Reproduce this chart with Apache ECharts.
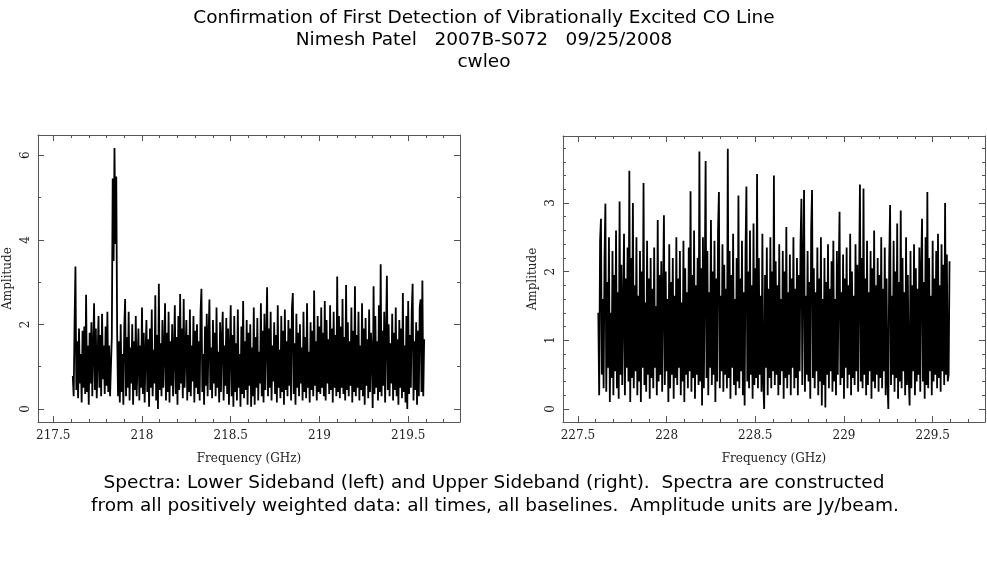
<!DOCTYPE html>
<html>
<head>
<meta charset="utf-8">
<script src="https://cdn.jsdelivr.net/npm/echarts@6/dist/echarts.min.js"></script>
<style>
html, body { margin: 0; padding: 0; background: #fff; }
#chart { width: 987px; height: 567px; }
</style>
</head>
<body>
<div id="chart"></div>
<script>
// channel grid of the two sidebands (GHz)
var lsbStart = 217.61;
var usbStart = 227.615;
var chanStep = 0.005;

// lower sideband amplitudes (Jy/beam)
var lsbAmp = [
	0.78, 0.3, 2.0, 3.37, 0.45, 1.6, 0.25, 1.9, 0.6, 1.3, 0.15, 1.85, 0.5, 1.95, 0.35, 2.7, 0.4, 1.5, 0.1, 1.8,
	0.6, 2.05, 0.3, 1.4, 2.5, 0.45, 1.9, 0.25, 1.2, 2.2, 0.5, 1.75, 0.3, 2.25, 0.7, 1.5, 0.35, 1.95, 0.55, 2.3,
	0.4, 1.5, 0.3, 0.3, 1.7, 5.45, 3.5, 6.17, 3.9, 5.5, 1.8, 0.3, 1.6, 0.15, 2.0, 0.4, 1.3, 0.1, 1.9, 2.6,
	0.3, 1.7, 0.5, 2.3, 0.2, 1.45, 0.6, 2.0, 0.1, 1.6, 0.45, 2.2, 0.3, 1.1, 1.9, 0.2, 1.5, 0.5, 2.4, 0.35,
	1.8, 0.15, 1.3, 2.1, 0.4, 1.65, 0.05, 1.9, 0.5, 2.35, 0.3, 1.4, 0.6, 2.69, 0.2, 1.75, 0.0, 2.96, 0.45, 1.55,
	0.3, 2.1, 0.5, 1.35, 2.5, 0.2, 1.8, 0.4, 2.3, 0.15, 1.6, 0.55, 2.0, 0.3, 1.25, 2.45, 0.35, 1.7, 0.1, 2.2,
	0.45, 2.72, 0.6, 1.9, 0.25, 2.6, 0.5, 1.4, 2.1, 0.2, 1.75, 0.4, 2.35, 0.3, 1.5, 0.65, 2.2, 0.15, 1.85, 0.5,
	2.0, 0.35, 1.6, 0.2, 2.3, 2.84, 0.4, 1.3, 0.1, 1.95, 0.55, 2.25, 0.3, 1.7, 2.59, 0.45, 1.45, 0.25, 2.1, 0.6,
	1.8, 0.3, 2.4, 0.5, 1.35, 0.15, 2.05, 0.4, 1.65, 2.3, 0.2, 1.5, 0.55, 2.15, 0.35, 1.9, 0.1, 1.4, 2.45, 0.3,
	1.75, 0.05, 2.2, 0.4, 1.55, 0.2, 2.35, 0.5, 1.3, 0.05, 1.95, 0.35, 2.55, 0.25, 1.6, 0.45, 2.1, 0.1, 1.8, 0.55,
	2.0, 0.05, 1.45, 0.3, 2.4, 0.1, 1.7, 0.5, 2.15, 0.2, 1.35, 0.6, 2.5, 0.3, 1.85, 0.15, 2.25, 0.45, 1.6, 2.88,
	0.3, 1.9, 0.5, 2.3, 0.2, 1.5, 0.65, 2.05, 0.35, 1.75, 0.15, 2.45, 0.5, 1.4, 0.25, 2.2, 0.4, 1.85, 0.1, 2.35,
	0.45, 1.6, 0.3, 2.1, 0.55, 1.9, 0.2, 2.4, 2.74, 0.35, 1.55, 0.1, 2.25, 0.5, 1.8, 0.3, 2.0, 0.6, 1.45, 0.2,
	2.3, 0.4, 1.7, 0.25, 2.5, 0.5, 1.35, 0.15, 2.05, 0.45, 1.85, 0.3, 2.8, 0.55, 1.6, 0.2, 2.2, 0.4, 1.95, 0.35,
	2.4, 0.5, 1.8, 0.3, 2.55, 0.2, 2.1, 0.6, 1.65, 0.35, 2.45, 0.45, 1.9, 0.15, 2.3, 0.5, 1.75, 0.3, 3.13, 0.4,
	2.2, 0.25, 1.95, 0.5, 2.6, 0.35, 1.7, 0.2, 2.93, 0.45, 2.05, 0.3, 1.6, 0.55, 2.4, 0.15, 1.85, 0.4, 2.9, 0.3,
	1.75, 0.5, 2.3, 0.2, 1.5, 0.45, 2.5, 0.3, 1.9, 0.1, 2.15, 0.55, 1.65, 0.25, 2.35, 0.4, 1.8, 1.3, 0.02, 2.9,
	0.35, 2.2, 0.5, 1.6, 0.2, 2.45, 0.4, 3.42, 0.3, 1.85, 0.55, 2.3, 0.15, 1.7, 3.15, 0.45, 2.0, 0.3, 1.55, 0.6,
	2.25, 0.2, 1.8, 0.45, 2.4, 0.3, 1.65, 0.1, 2.1, 0.5, 1.9, 0.25, 2.74, 0.4, 1.5, 0.15, 2.2, 0.0, 2.55, 0.35,
	1.75, 0.5, 2.3, 2.96, 0.2, 1.6, 0.45, 2.05, 0.1, 1.85, 0.3, 2.4, 2.59, 0.4, 3.04, 0.3, 1.65
];

// upper sideband amplitudes (Jy/beam)
var usbAmp = [
	1.4, 0.2, 2.45, 2.77, 0.5, 1.6, 0.3, 2.2, 2.99, 0.25, 1.85, 0.6, 2.5, 0.1, 1.4, 0.45, 2.3, 0.2, 1.95, 0.55,
	2.6, 0.3, 1.7, 0.15, 3.02, 0.5, 2.1, 0.35, 1.5, 2.55, 0.2, 1.9, 0.6, 2.35, 0.4, 3.47, 0.1, 2.2, 0.45, 3.0,
	0.3, 1.8, 0.55, 2.5, 0.2, 1.65, 0.4, 2.3, 0.1, 2.0, 0.6, 3.29, 0.35, 1.55, 0.25, 2.45, 0.5, 1.9, 0.15, 2.2,
	0.45, 1.75, 0.3, 2.35, 0.6, 1.5, 0.2, 2.75, 0.4, 1.95, 0.5, 2.15, 0.25, 1.7, 2.82, 0.35, 2.0, 0.55, 1.6, 0.1,
	2.4, 0.3, 1.85, 0.5, 2.2, 0.15, 1.65, 0.45, 2.5, 0.35, 1.9, 0.6, 2.3, 0.2, 1.55, 0.4, 2.45, 0.1, 2.05, 0.5,
	1.7, 0.3, 2.35, 0.55, 3.17, 0.25, 1.95, 0.45, 2.6, 0.15, 1.8, 0.5, 2.2, 0.35, 3.75, 0.4, 2.05, 0.05, 2.5, 0.3,
	1.85, 3.61, 0.45, 2.3, 0.2, 1.7, 0.6, 2.75, 0.35, 2.0, 0.5, 2.45, 0.1, 1.9, 0.4, 2.6, 3.16, 0.3, 1.65, 0.55,
	2.4, 0.25, 2.1, 0.5, 1.75, 0.3, 3.79, 0.45, 2.3, 0.15, 1.95, 0.6, 2.55, 0.35, 1.6, 0.2, 2.2, 0.4, 3.11, 0.3,
	1.9, 0.55, 2.45, 0.2, 1.7, 0.05, 2.3, 3.24, 0.4, 2.0, 0.3, 2.6, 0.5, 1.8, 0.15, 2.7, 0.35, 2.05, 0.45, 3.42,
	0.3, 2.2, 0.5, 1.65, 0.25, 2.55, 0.4, 0.0, 1.95, 0.6, 2.35, 0.2, 1.75, 0.45, 2.5, 0.3, 2.0, 0.55, 3.4, 0.35,
	2.15, 0.5, 1.8, 0.2, 2.4, 0.35, 1.6, 0.55, 2.3, 0.15, 2.0, 0.45, 2.65, 0.3, 1.7, 0.5, 2.25, 0.2, 1.9, 0.6,
	2.5, 0.3, 1.75, 0.45, 2.2, 0.2, 1.95, 0.55, 2.4, 3.06, 0.35, 2.1, 3.19, 0.25, 1.65, 0.5, 2.3, 0.4, 1.85, 0.15,
	2.6, 3.19, 0.45, 2.05, 0.3, 1.7, 0.55, 2.35, 0.2, 1.9, 0.4, 2.5, 0.05, 1.6, 0.35, 2.2, 0.02, 1.85, 0.5, 2.4,
	0.3, 1.75, 0.55, 2.15, 0.25, 2.45, 0.4, 1.6, 0.2, 2.3, 0.5, 1.95, 2.87, 0.35, 1.7, 0.45, 2.25, 0.15, 1.9, 0.6,
	2.35, 0.3, 1.8, 0.5, 2.55, 0.2, 2.0, 0.45, 1.65, 0.35, 2.4, 0.55, 2.1, 0.25, 1.85, 3.27, 0.4, 2.2, 0.3, 3.21,
	0.5, 1.9, 0.2, 2.45, 0.35, 1.7, 0.55, 2.3, 0.15, 2.05, 0.4, 2.6, 0.3, 1.8, 0.5, 2.2, 0.25, 1.95, 0.45, 2.5,
	0.3, 1.75, 0.55, 2.35, 0.2, 1.9, 0.4, 0.0, 2.15, 2.97, 0.35, 1.65, 0.5, 2.45, 0.25, 2.0, 0.45, 2.7, 0.15, 1.85,
	0.4, 2.89, 0.3, 2.2, 0.55, 1.7, 0.2, 2.5, 0.35, 1.95, 0.45, 0.05, 2.3, 0.3, 1.8, 0.55, 2.4, 0.2, 2.05, 0.4,
	1.75, 0.5, 2.35, 0.25, 2.0, 2.77, 0.4, 1.85, 0.15, 2.5, 0.35, 3.16, 0.3, 2.2, 0.55, 1.65, 0.2, 2.45, 0.4, 1.9,
	0.5, 2.3, 0.3, 2.55, 0.45, 1.8, 0.25, 2.4, 0.55, 2.1, 0.35, 3.0, 0.5, 2.25, 0.4, 0.5, 2.15
];

// tick positions
var lsbMajorX = [217.5, 218, 218.5, 219, 219.5];
var lsbMinorX = [217.6, 217.7, 217.8, 217.9, 218.1, 218.2, 218.3, 218.4, 218.6, 218.7, 218.8, 218.9, 219.1, 219.2, 219.3, 219.4, 219.6, 219.7];
var usbMajorX = [227.5, 228, 228.5, 229, 229.5];
var usbMinorX = [227.6, 227.7, 227.8, 227.9, 228.1, 228.2, 228.3, 228.4, 228.6, 228.7, 228.8, 228.9, 229.1, 229.2, 229.3, 229.4, 229.6, 229.7];
var lsbMajorY = [0, 2, 4, 6];
var lsbMinorY = [1, 3, 5];
var usbMajorY = [0, 1, 2, 3];
var usbMinorY = [0.2, 0.4, 0.6, 0.8, 1.2, 1.4, 1.6, 1.8, 2.2, 2.4, 2.6, 2.8, 3.2, 3.4, 3.6, 3.8];

var titleLines = [
	'Confirmation of First Detection of Vibrationally Excited CO Line',
	'Nimesh Patel   2007B-S072   09/25/2008',
	'cwleo'
];
var captionLines = [
	'Spectra: Lower Sideband (left) and Upper Sideband (right).  Spectra are constructed',
	'from all positively weighted data: all times, all baselines.  Amplitude units are Jy/beam.'
];

var frameColor = '#555';
var labelFont = 'DejaVu Serif';

function toPairs(start, amps) {
	var out = [];
	for (var i = 0; i < amps.length; i++) {
		out.push([+(start + i * chanStep).toFixed(4), amps[i]]);
	}
	return out;
}

// one axis of the box; major ones carry the frame line, minor ones only ticks
function boxAxis(grid, pos, min, max, ticks, major, labels, name) {
	var isY = (pos === 'left' || pos === 'right');
	return {
		type: 'value',
		gridIndex: grid,
		position: pos,
		min: min,
		max: max,
		axisLine: { show: major, onZero: false, lineStyle: { color: frameColor, width: 1 } },
		axisTick: { show: true, inside: true, length: major ? 6 : 3, customValues: ticks, lineStyle: { color: frameColor, width: 1 } },
		axisLabel: {
			show: !!labels,
			customValues: ticks,
			rotate: isY ? 90 : 0,
			margin: isY ? 6 : 8,
			fontFamily: labelFont,
			fontSize: 12,
			color: '#222'
		},
		splitLine: { show: false },
		name: labels ? name : '',
		nameLocation: 'middle',
		nameGap: isY ? 24 : 31,
		nameTextStyle: { fontFamily: labelFont, fontSize: 12, color: '#222' }
	};
}

// centred text line, cx = horizontal centre in px
function textLine(text, cx, top) {
	return {
		left: cx,
		top: top,
		padding: 0,
		textAlign: 'center',
		text: text,
		textStyle: { fontFamily: 'DejaVu Sans', fontSize: 18.5, fontWeight: 'normal', color: '#000' }
	};
}

var lsbX = [217.414, 219.792];
var usbX = [227.416, 229.795];
var lsbY = [-0.31, 6.48];
var usbY = [-0.19, 3.975];

var chart = echarts.init(document.getElementById('chart'));

var option = {
	animation: false,
	backgroundColor: '#fff',
	title: [
		textLine(titleLines[0], 484, 9),
		textLine(titleLines[1], 484, 31),
		textLine(titleLines[2], 484, 53),
		textLine(captionLines[0], 494, 474),
		textLine(captionLines[1], 495, 497)
	],
	grid: [
		{ left: 38, top: 135, width: 422, height: 287 },
		{ left: 38, top: 135, width: 422, height: 287 },
		{ left: 563, top: 136, width: 422, height: 286 },
		{ left: 563, top: 136, width: 422, height: 286 }
	],
	xAxis: [
		boxAxis(0, 'bottom', lsbX[0], lsbX[1], lsbMajorX, true, true, 'Frequency (GHz)'),
		boxAxis(0, 'top', lsbX[0], lsbX[1], lsbMajorX, true, false),
		boxAxis(1, 'bottom', lsbX[0], lsbX[1], lsbMinorX, false, false),
		boxAxis(1, 'top', lsbX[0], lsbX[1], lsbMinorX, false, false),
		boxAxis(2, 'bottom', usbX[0], usbX[1], usbMajorX, true, true, 'Frequency (GHz)'),
		boxAxis(2, 'top', usbX[0], usbX[1], usbMajorX, true, false),
		boxAxis(3, 'bottom', usbX[0], usbX[1], usbMinorX, false, false),
		boxAxis(3, 'top', usbX[0], usbX[1], usbMinorX, false, false)
	],
	yAxis: [
		boxAxis(0, 'left', lsbY[0], lsbY[1], lsbMajorY, true, true, 'Amplitude'),
		boxAxis(0, 'right', lsbY[0], lsbY[1], lsbMajorY, true, false),
		boxAxis(1, 'left', lsbY[0], lsbY[1], lsbMinorY, false, false),
		boxAxis(1, 'right', lsbY[0], lsbY[1], lsbMinorY, false, false),
		boxAxis(2, 'left', usbY[0], usbY[1], usbMajorY, true, true, 'Amplitude'),
		boxAxis(2, 'right', usbY[0], usbY[1], usbMajorY, true, false),
		boxAxis(3, 'left', usbY[0], usbY[1], usbMinorY, false, false),
		boxAxis(3, 'right', usbY[0], usbY[1], usbMinorY, false, false)
	],
	series: [{
		name: 'LSB',
		type: 'line',
		xAxisIndex: 0,
		yAxisIndex: 0,
		showSymbol: false,
		sampling: null,
		lineStyle: { color: '#000', width: 1.8 },
		data: toPairs(lsbStart, lsbAmp)
	}, {
		name: 'USB',
		type: 'line',
		xAxisIndex: 4,
		yAxisIndex: 4,
		showSymbol: false,
		sampling: null,
		lineStyle: { color: '#000', width: 1.8 },
		data: toPairs(usbStart, usbAmp)
	}]
};

chart.setOption(option);
</script>
</body>
</html>
